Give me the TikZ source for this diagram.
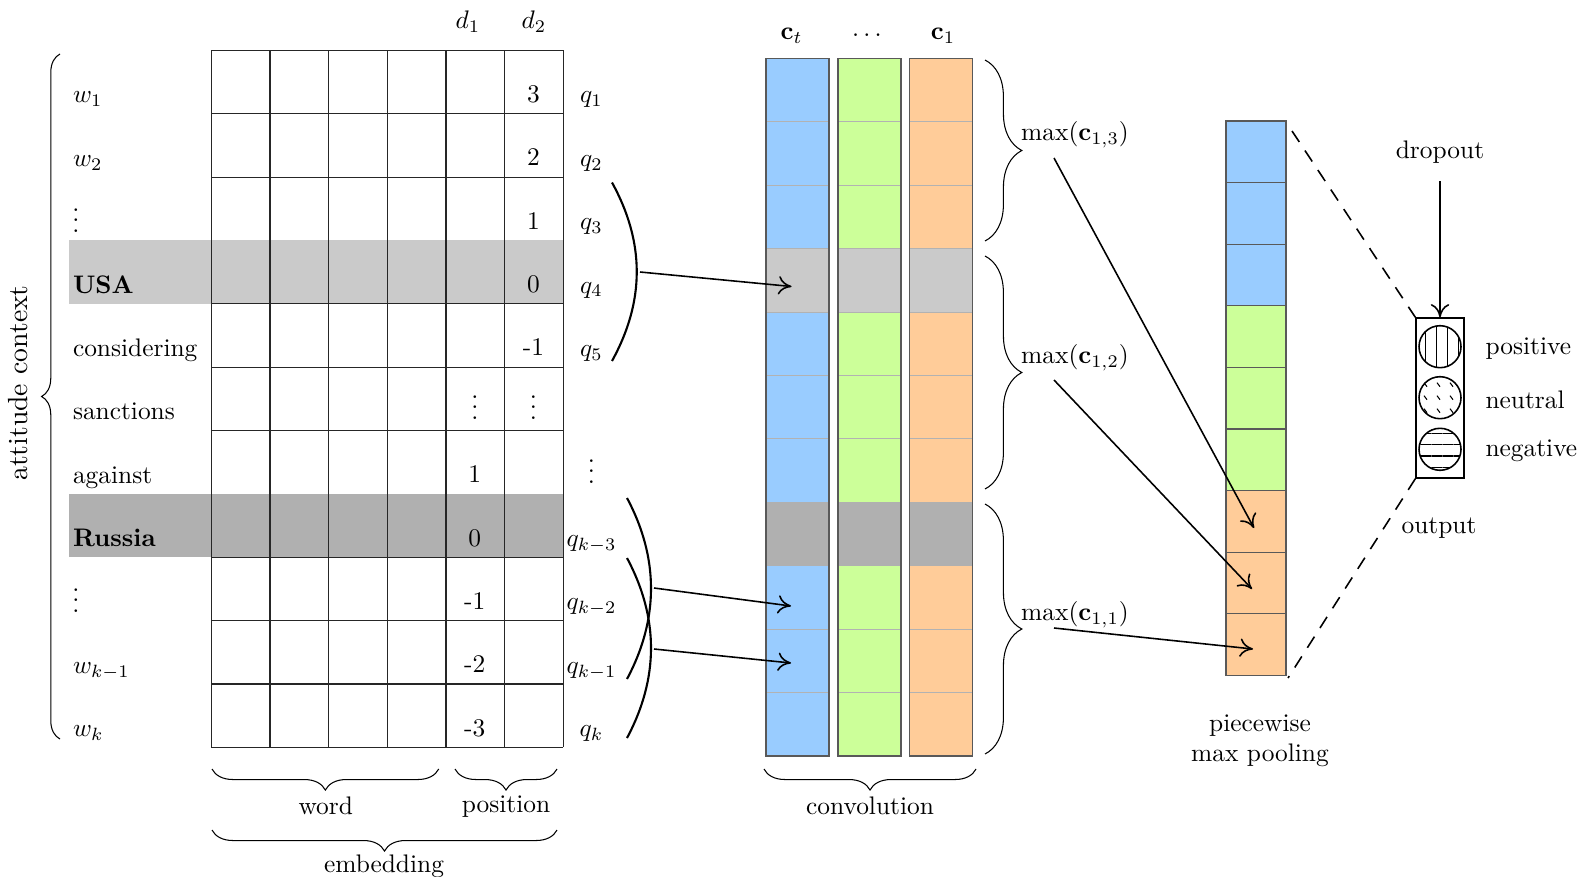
\documentclass[tikz,border=0pt]{standalone}
\usepackage{amsmath}
\usetikzlibrary{calc,arrows.meta,decorations.pathreplacing,patterns.meta}

\definecolor{convBlue}{RGB}{153,204,255}
\definecolor{convGreen}{RGB}{204,255,153}
\definecolor{convOrange}{RGB}{255,204,153}
\definecolor{targetLight}{RGB}{202,202,202}
\definecolor{targetDark}{RGB}{176,176,176}

\tikzset{
  bracket/.style={decorate,decoration={brace,amplitude=#1}},
  cell/.style={draw=black!30,inner sep=0pt},
  ptr/.style={-{To[length=5pt,width=7pt]},semithick},
  curl/.style={line width=0.8pt},
  lab/.style={anchor=base west,inner sep=0pt},
  mid/.style={anchor=base,inner sep=0pt},
  gap/.style={inner sep=0pt},
  dashline/.style={semithick,dash pattern=on 5pt off 3.9pt}
}

\begin{document}
\begin{tikzpicture}[x=0.38pt,y=-0.38pt,every node/.style={scale=0.965}]
  \useasboundingbox (0,0) rectangle (1581,876);

  %% Highlighted rows of the sentence matrix
  \fill[targetLight] (69,240) rectangle (563,303.6);
  \fill[targetDark] (69,493.8) rectangle (563,557.2);

  %% Building the sentence matrix
  \foreach \x in {0,1,...,6}
  {
    \draw[black!85] ({211.3+58.67*\x},50.4) -- ({211.3+58.67*\x},747.4);
  }
  \foreach \y in {0,1,2,4,5,6,8,9,10,11}
  {
    \draw[black!85] (211,{50.4+63.36*\y}) -- (563,{50.4+63.36*\y});
  }

  %% Labels of the rows
  \foreach \i/\txt in {0/$w_1$,1/$w_2$,3/\textbf{USA},4/considering,5/sanctions,6/against,7/\textbf{Russia},9/$w_{k-1}$,10/$w_k$}
  {
    \node[lab] (W\i) at (72.5,{103+63.36*\i}) {\txt};
  }
  \node[gap] (Wdots) at (76,213) {$\vdots$};
  \node[gap] (Wdotsb) at (76,593) {$\vdots$};

  %% Position columns
  \node (Dhead) at (468,22) {$d_1$};
  \node (Ehead) at (534,22) {$d_2$};
  \foreach \i/\txt in {0/3,1/2,2/1,3/0,4/-1}
  {
    \node[mid] (E\i) at (533.5,{102.5+63.36*\i}) {\txt};
  }
  \foreach \i/\txt in {6/1,7/0,8/-1,9/-2,10/-3}
  {
    \node[mid] (D\i) at (474.8,{102.5+63.36*\i}) {\txt};
  }
  \node[gap] (Ddots) at (474.8,400) {$\vdots$};
  \node[gap] (Edots) at (533.5,400) {$\vdots$};

  %% Labels of the distances
  \foreach \i/\txt in {0/$q_1$,1/$q_2$,2/$q_3$,3/$q_4$,4/$q_5$,7/$q_{k-3}$,8/$q_{k-2}$,9/$q_{k-1}$,10/$q_k$}
  {
    \node[mid] (Q\i) at (591.5,{103+63.36*\i}) {\txt};
  }
  \node[gap] (Qdots) at (591.5,464) {$\vdots$};

  %% Building the convolution columns
  \foreach \x/\col in {766/convBlue,838/convGreen,909.5/convOrange}
  {
    \foreach \r in {0,1,...,10}
    {
      \path[cell,fill=\col] (\x,{58.5+63.4*\r}) rectangle (\x+63,{58.5+63.4*\r+63.4});
    }
    \fill[targetLight] (\x,248.7) rectangle (\x+63,312.1);
    \fill[targetDark] (\x,502.3) rectangle (\x+63,565.7);
    \draw[black!65,semithick] (\x,58.5) rectangle (\x+63,756);
  }
  \node (Chead) at (791.5,36) {$\mathbf{c}_t$};
  \node (Cdots) at (869,36) {$\cdots$};
  \node (Dlast) at (943,36) {$\mathbf{c}_1$};

  %% Building the pooling column
  \foreach \r/\col in {0/convBlue,1/convBlue,2/convBlue,3/convGreen,4/convGreen,5/convGreen,6/convOrange,7/convOrange,8/convOrange}
  {
    \path[cell,fill=\col,draw=black!65] (1226,{121+61.6*\r}) rectangle (1286,{121+61.6*\r+61.6});
  }

  %% Output layer
  \node[draw,semithick,minimum width=18.86pt,minimum height=63pt,inner sep=0pt] (OUT) at (1440,398) {};
  \draw[semithick,pattern={Lines[angle=90,distance=4.2pt,line width=0.4pt]}] (1440,346.7) circle (21);
  \draw[semithick,pattern={Lines[angle=0,distance=4.2pt,line width=0.4pt]}] (1440,449.3) circle (21);
  \begin{scope}
    \clip (1440,397.7) circle (21);
    \foreach \x in {-16,-3,10}
      \foreach \y in {-15,-2,11}
        \draw (1440+\x,397.7+\y) -- ++(3,4);
  \end{scope}
  \draw[semithick] (1440,397.7) circle (21);
  \node[lab] (POS) at (1485,354) {positive};
  \node[lab] (NEU) at (1485,408) {neutral};
  \node[lab] (NEG) at (1485,456) {negative};
  \node (DROP) at (1440,152) {dropout};
  \node (OUTLAB) at (1439,528) {output};
  \coordinate (DROPend) at (1440,181);
  \draw[ptr] (DROPend) -- (OUT.north);

  %% Dashed lines to the output layer
  \coordinate (POOLtop) at (1292,131);
  \coordinate (POOLbot) at (1288,678);
  \draw[dashline] (POOLtop) -- (OUT.north west);
  \draw[dashline] (OUT.south west) -- (POOLbot);

  %% Window curves
  \coordinate (ARCa) at (612,182.5);
  \coordinate (ARCb) at (612,361);
  \coordinate (ARCc) at (627,498);
  \coordinate (ARCd) at (627,679);
  \coordinate (ARCe) at (627,558);
  \coordinate (ARCf) at (627,738);
  \draw[curl] (ARCa) .. controls +(33,60) and +(33,-60) .. (ARCb);
  \draw[curl] (ARCc) .. controls +(32,60) and +(32,-60) .. (ARCd);
  \draw[curl] (ARCe) .. controls +(32,60) and +(32,-60) .. (ARCf);

  %% Arrows to the convolution columns
  \foreach \a/\b/\c/\d/\n in {640/272/791.5/286.5/a,654/588/791/606/b,654/649/791/663/c}
  {
    \coordinate (FROM\n) at (\a,\b);
    \coordinate (TO\n) at (\c,\d);
    \draw[ptr] (FROM\n) -- (TO\n);
  }

  %% Max pooling
  \node (MAXc) at (1075,135) {max($\mathbf{c}_{1,3}$)};
  \node (MAXb) at (1075,358) {max($\mathbf{c}_{1,2}$)};
  \node (MAXa) at (1075,615) {max($\mathbf{c}_{1,1}$)};
  \foreach \a/\b/\c/\d/\n in {1054/158/1254/528/d,1054/380/1252/589/e,1054/628/1253/649/f}
  {
    \coordinate (FROM\n) at (\a,\b);
    \coordinate (TO\n) at (\c,\d);
    \draw[ptr] (FROM\n) -- (TO\n);
  }
  \draw[bracket=14pt] (985,60) -- (985,241);
  \draw[bracket=14pt] (985,256) -- (985,489);
  \draw[bracket=14pt] (985,504) -- (985,754);

  %% Brackets round the table
  \draw[bracket=7pt] (60,739) -- (60,54);
  \node[rotate=90,scale=1.09] (CONTEXT) at (18,383) {attitude context};
  \draw[bracket=8pt] (438.7,769) -- (212,769);
  \draw[bracket=8pt] (557,769) -- (455,769);
  \draw[bracket=8pt] (976,769) -- (764,769);
  \draw[bracket=8pt] (557,830) -- (212,830);
  \node (WORD) at (325.7,806) {word};
  \node (POSN) at (506,807) {position};
  \node (CONV) at (870,806) {convolution};
  \node (EMB) at (384,866) {embedding};
  \node[align=center] (PIECE) at (1260,741) {piecewise\\max pooling};
\end{tikzpicture}
\end{document}
